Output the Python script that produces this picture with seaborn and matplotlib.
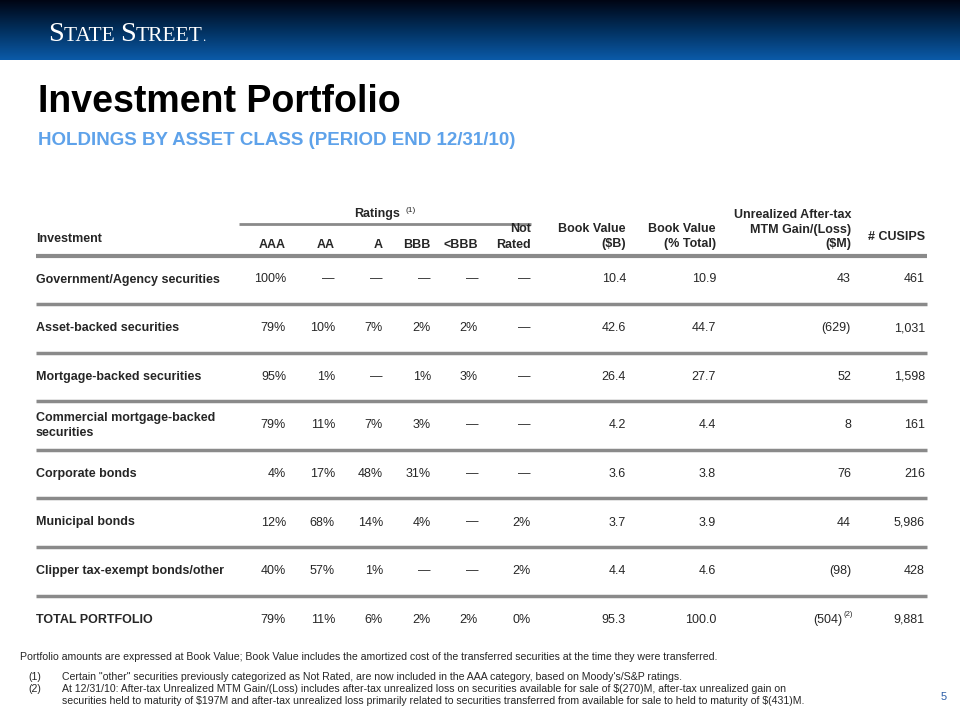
import numpy as np
import matplotlib
matplotlib.use("Agg")
import matplotlib.pyplot as plt
import seaborn as sns
from matplotlib.colors import LinearSegmentedColormap

sns.set_theme(style="white")
plt.rcParams['font.family'] = ['Liberation Sans', 'DejaVu Sans']

# table data
investments = [
    "Government/Agency securities",
    "Asset-backed securities",
    "Mortgage-backed securities",
    "Commercial mortgage-backed\nsecurities",
    "Corporate bonds",
    "Municipal bonds",
    "Clipper tax-exempt bonds/other",
    "TOTAL PORTFOLIO",
]
rating_cols = ["AAA", "AA", "A", "BBB", "<BBB", "Not\nRated"]
aaa = ["100%", "79%", "95%", "79%", "4%", "12%", "40%", "79%"]
aa = ["—", "10%", "1%", "11%", "17%", "68%", "57%", "11%"]
a = ["—", "7%", "—", "7%", "48%", "14%", "1%", "6%"]
bbb = ["—", "2%", "1%", "3%", "31%", "4%", "—", "2%"]
below_bbb = ["—", "2%", "3%", "—", "—", "—", "—", "2%"]
not_rated = ["—", "—", "—", "—", "—", "2%", "2%", "0%"]
book_value_b = [10.4, 42.6, 26.4, 4.2, 3.6, 3.7, 4.4, 95.3]
book_value_pct = [10.9, 44.7, 27.7, 4.4, 3.8, 3.9, 4.6, 100.0]
mtm_gain = [43, -629, 52, 8, 76, 44, -98, -504]
cusips = [461, 1031, 1598, 161, 216, 5986, 428, 9881]

fig = plt.figure(figsize=(9.6, 7.2), dpi=100)
ax = fig.add_axes([0, 0, 1, 1])
ax.set_xlim(0, 960)
ax.set_ylim(720, 0)
ax.axis('off')

# header band
cmap = LinearSegmentedColormap.from_list("band", ["#000514", "#02305e", "#0b5aa8"])
grad = np.linspace(0, 1, 100).reshape(-1, 1)
ax.imshow(grad, extent=[0, 960, 60, 0], aspect='auto', cmap=cmap, zorder=0)
ax.set_xlim(0, 960)
ax.set_ylim(720, 0)

# logo in small caps
fig.canvas.draw()
renderer = fig.canvas.get_renderer()
x = 48
for part, size in [("S", 20.5), ("TATE ", 15.5), ("S", 20.5), ("TREET", 15.5), (".", 9)]:
    t = ax.text(x, 41, part, color="white", fontsize=size, family="Liberation Serif",
                ha="left", va="baseline")
    bb = t.get_window_extent(renderer)
    x += bb.width

ax.text(38, 112, "Investment Portfolio", fontsize=27, fontweight="bold",
        color="black", va="baseline")
ax.text(38, 145, "HOLDINGS BY ASSET CLASS (PERIOD END 12/31/10)", fontsize=13.5,
        fontweight="bold", color="#5ea2ea", va="baseline")

# column right edges
col_x = [286, 335, 383, 431, 478, 531, 626, 716, 851, 925]
fs = 9
line_c = "#8a8a8a"
dy = 3.5  # centre -> baseline


def cell(xx, yc, s, **kw):
    ax.text(xx, yc + dy, s, fontsize=fs, va="baseline", **kw)


# header
cell(36, 238, "Investment", fontweight="bold")
cell(377, 214, "Ratings", fontweight="bold", ha="center")
ax.text(405, 210, "(1)", fontsize=6, va="center", ha="left")
ax.plot([239, 531], [224, 224], color=line_c, lw=2, solid_capstyle="butt")
for cx, name in zip(col_x[:6], rating_cols):
    lines = name.split("\n")
    for k, ln in enumerate(reversed(lines)):
        cell(cx, 244 - 15 * k, ln, fontweight="bold", ha="right")
cell(col_x[6], 229, "Book Value", fontweight="bold", ha="right")
cell(col_x[6], 244, "(\\$B)", fontweight="bold", ha="right")
cell(col_x[7], 229, "Book Value", fontweight="bold", ha="right")
cell(col_x[7], 244, "(% Total)", fontweight="bold", ha="right")
cell(col_x[8], 214, "Unrealized After-tax", fontweight="bold", ha="right")
cell(col_x[8], 229, "MTM Gain/(Loss)", fontweight="bold", ha="right")
cell(col_x[8], 244, "(\\$M)", fontweight="bold", ha="right")
cell(col_x[9], 237, "# CUSIPS", fontweight="bold", ha="right")
ax.plot([36, 927], [256, 256], color=line_c, lw=3, solid_capstyle="butt")


def money(v):
    return f"({abs(v):,})" if v < 0 else f"{v:,}"


row_y = [279 + 48.6 * i for i in range(len(investments))]
for i, y in enumerate(row_y):
    label_lines = investments[i].split("\n")
    top = y - 7.5 * (len(label_lines) - 1)
    for k, ln in enumerate(label_lines):
        cell(36, top + 15 * k, ln, fontweight="bold")
    cells = [aaa[i], aa[i], a[i], bbb[i], below_bbb[i], not_rated[i],
             f"{book_value_b[i]:.1f}", f"{book_value_pct[i]:.1f}",
             money(mtm_gain[i]), f"{cusips[i]:,}"]
    for cx, val in zip(col_x, cells):
        if i == len(investments) - 1 and cx == col_x[8]:
            cell(cx - 9, y, val, ha="right")
            ax.text(cx - 8, y - 5, "(2)", fontsize=5.5, va="center", ha="left")
        else:
            cell(cx, y, val, ha="right")
    if i < len(investments) - 1:
        ax.plot([36, 927], [y + 25, y + 25], color=line_c, lw=2.5, solid_capstyle="butt")

# footnotes
fn = 7.6
ax.text(20, 657, "Portfolio amounts are expressed at Book Value; Book Value includes the amortized cost "
        "of the transferred securities at the time they were transferred.", fontsize=fn, va="center")
ax.text(28, 677, "(1)", fontsize=fn, va="center")
ax.text(62, 677, "Certain \"other\" securities previously categorized as Not Rated, are now included in the "
        "AAA category, based on Moody's/S&P ratings.", fontsize=fn, va="center")
ax.text(28, 689, "(2)", fontsize=fn, va="center")
ax.text(62, 689, "At 12/31/10: After-tax Unrealized MTM Gain/(Loss) includes after-tax unrealized loss on "
        "securities available for sale of \\$(270)M, after-tax unrealized gain on", fontsize=fn, va="center")
ax.text(62, 701, "securities held to maturity of \\$197M and after-tax unrealized loss primarily related to "
        "securities transferred from available for sale to held to maturity of \\$(431)M.",
        fontsize=fn, va="center")
ax.text(944, 697, "5", fontsize=8, color="#2c5ea8", va="center", ha="center")

fig.savefig("out.png", dpi=100)
